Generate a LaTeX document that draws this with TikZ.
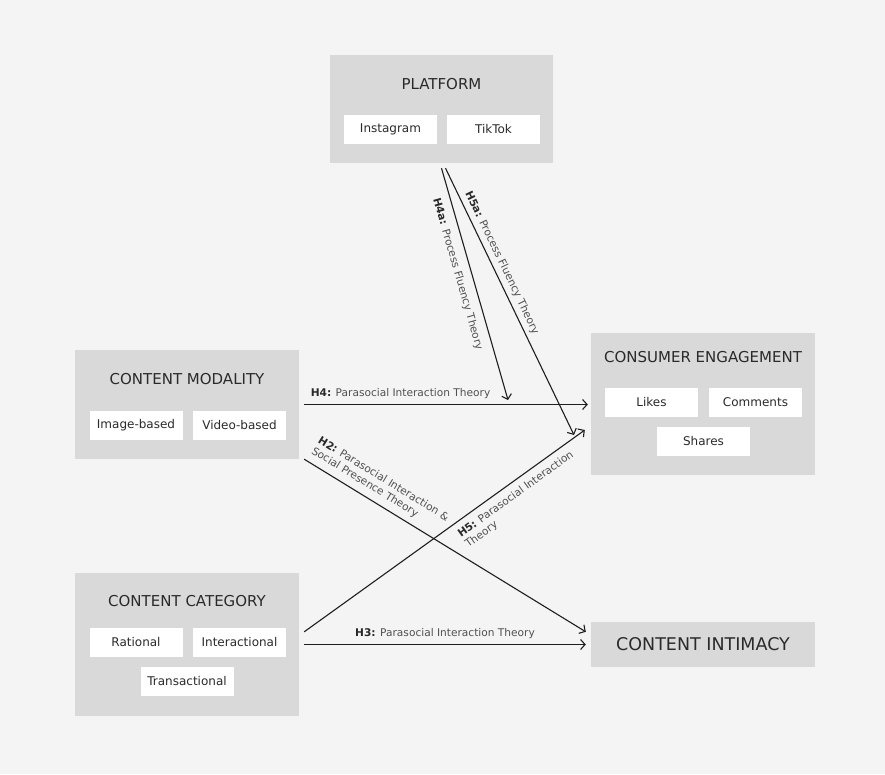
\documentclass[tikz,border=0pt]{standalone}
\usepackage{fontspec}
\setmainfont{DejaVu Sans}
\usetikzlibrary{arrows.meta,calc}
\definecolor{bg}{HTML}{F4F4F4}
\definecolor{boxg}{HTML}{D9D9D9}
\definecolor{txt}{HTML}{2A2A2A}
\definecolor{lbl}{HTML}{505050}
\definecolor{arrc}{HTML}{1E1E1E}
\tikzset{
  outerbox/.style 2 args={fill=boxg, draw=none, inner sep=0pt, minimum width=#1, minimum height=#2},
  itembox/.style={fill=white, draw=none, inner sep=0pt, minimum width=93pt, minimum height=29pt, text=txt, font=\fontsize{12}{14}\selectfont},
  titletext/.style={text=txt, inner sep=0pt, font=\fontsize{15}{18}\selectfont},
  arr/.style={draw=arrc, line width=1.1pt, -{Straight Barb[length=4.5pt,width=10pt,line width=1.1pt]}},
  lab/.style={text=lbl, inner sep=2pt, font=\fontsize{10.6}{12.5}\selectfont, align=left},
}
\newcommand{\hyp}[1]{\textbf{\color{txt}#1}}
\begin{document}
\begin{tikzpicture}[x=1pt,y=-1pt]
\fill[bg] (0,0) rectangle (885,774);
\useasboundingbox (0,0) rectangle (885,774);

% PLATFORM
\node[outerbox={223pt}{108pt}] (platform) at (441.5,109) {};
\node[titletext] (platformt) at (441.5,84) {PLATFORM};
\node[itembox] (insta) at (390.5,129.5) {Instagram};
\node[itembox] (tiktok) at (493.5,129.5) {TikTok};

% CONTENT MODALITY
\node[outerbox={224pt}{109pt}] (modality) at (187,404.5) {};
\node[titletext] (modalityt) at (187,379) {CONTENT MODALITY};
\node[itembox] (imgb) at (136,425.5) {Image-based};
\node[itembox] (vidb) at (239.5,425.5) {Video-based};

% CONSUMER ENGAGEMENT
\node[outerbox={224pt}{142pt}] (engagement) at (703,404) {};
\node[titletext] (engagementt) at (703,357) {CONSUMER ENGAGEMENT};
\node[itembox] (likes) at (651.5,402.5) {Likes};
\node[itembox] (comments) at (755.5,402.5) {Comments};
\node[itembox] (shares) at (703.5,441.5) {Shares};

% CONTENT CATEGORY
\node[outerbox={224pt}{143pt}] (category) at (187,644.5) {};
\node[titletext] (categoryt) at (187,601) {CONTENT CATEGORY};
\node[itembox] (rational) at (136,642.5) {Rational};
\node[itembox] (interactional) at (239.5,642.5) {Interactional};
\node[itembox] (transactional) at (187,681.5) {Transactional};

% CONTENT INTIMACY
\node[outerbox={224pt}{45pt}, text=txt, font=\fontsize{17.5}{20}\selectfont] (intimacy) at (703,644.5) {CONTENT INTIMACY};

% end coordinates
\coordinate (h4aend) at (508,400);
\coordinate (h5aend) at (574,435);
\coordinate (h2end) at ($(intimacy.north west)+(-5,10)$);
\coordinate (h5end) at ($(engagement.west)+(-6,26)$);

% H4
\draw[arr] ($(modality.east)+(5,0)$) -- ($(modality.east -| engagement.west)+(-3,0)$)
  node[lab, pos=0, anchor=base west, inner sep=0pt, xshift=6pt, yshift=8pt] (h4lab) {\hyp{H4:} Parasocial Interaction Theory};
% H4a
\draw[arr] ($(platform.south)+(0,5)$) -- (h4aend)
  node[lab, pos=0.44, sloped, below, yshift=-6pt] (h4alab) {\hyp{H4a:} Process Fluency Theory};
% H5a
\draw[arr] ($(platform.south)+(4,5)$) -- (h5aend)
  node[lab, pos=0.37, sloped, above, yshift=2pt] (h5alab) {\hyp{H5a:} Process Fluency Theory};
% H2
\draw[arr] ($(modality.south east)+(5,0)$) -- (h2end)
  node[lab, pos=0, sloped, anchor=south west, yshift=4pt] (h2lab) {\hyp{H2:} Parasocial Interaction \&\\Social Presence Theory};
% H5
\draw[arr] ($(category.north east)+(5,59)$) -- (h5end)
  node[lab, pos=0.52, sloped, anchor=north west, yshift=-4.5pt] (h5lab) {\hyp{H5:} Parasocial Interaction\\Theory};
% H3
\draw[arr] ($(category.east)+(5,0)$) -- ($(intimacy.west)+(-5,0)$)
  node[lab, midway, anchor=base, inner sep=0pt, yshift=8pt] (h3lab) {\hyp{H3:} Parasocial Interaction Theory};
\end{tikzpicture}
\end{document}
